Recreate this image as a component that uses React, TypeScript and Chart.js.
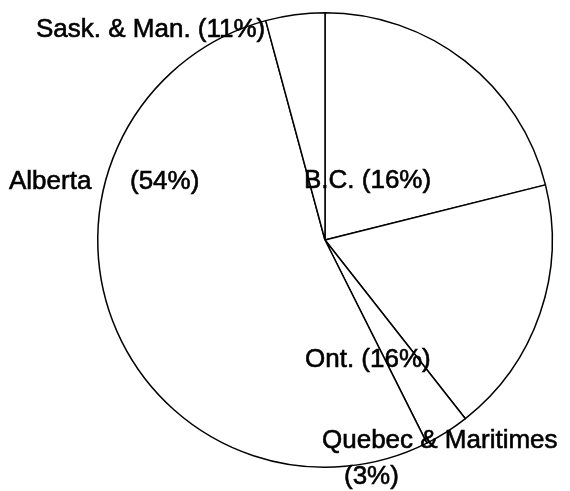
import React, { useEffect, useRef } from "react";
import { Chart, registerables } from "chart.js";

Chart.register(...registerables);

const categories = ["B.C.", "Ont.", "Quebec & Maritimes", "Alberta", "Sask. & Man."];
const sliceValues = [21.1, 18.3, 3.2, 53.2, 4.2];
// Printed labels (text as it appears on the chart)
const labelLines = [
  ["B.C. (16%)"],
  ["Ont. (16%)"],
  ["Quebec & Maritimes", "(3%)"],
  ["Alberta", "(54%)"],
  ["Sask. & Man. (11%)"],
];

// Layout of the label text (pixels, left x / baseline y per line)
const labelLayout = [
  [[304, 188]],
  [[305, 367]],
  [[322, 448], [344, 484]],
  [[9, 189], [130, 189]],
  [[36, 37]],
];

const labelPlugin = {
  id: "pieLabels",
  afterDraw(chart: any) {
    const ctx = chart.ctx;
    ctx.save();
    ctx.fillStyle = "#000";
    ctx.strokeStyle = "#000";
    ctx.lineWidth = 0.6;
    ctx.font = "26px 'Liberation Sans', Arial, sans-serif";
    ctx.textAlign = "left";
    ctx.textBaseline = "alphabetic";
    labelLines.forEach((lines, i) => {
      lines.forEach((t, j) => {
        const [x, y] = labelLayout[i][j];
        ctx.fillText(t, x, y);
        ctx.strokeText(t, x, y);
      });
    });
    ctx.restore();
  },
};

export default function App() {
  const ref = useRef<HTMLCanvasElement | null>(null);
  useEffect(() => {
    if (!ref.current) return;
    const chart = new Chart(ref.current, {
      type: "pie",
      data: {
        labels: categories,
        datasets: [
          {
            data: sliceValues,
            backgroundColor: "#ffffff",
            borderColor: "#000000",
            borderWidth: 1.5,
          },
        ],
      },
      options: {
        animation: false,
        responsive: false,
        maintainAspectRatio: false,
        layout: { padding: { left: 97, right: 17, top: 12, bottom: 23 } },
        plugins: {
          legend: { display: false },
          tooltip: { enabled: false },
        },
      },
      plugins: [labelPlugin],
    });
    return () => chart.destroy();
  }, []);
  return (
    <div style={{ position: "fixed", left: 0, top: 0, width: 570, height: 491, background: "#fff" }}>
      <canvas ref={ref} width={570} height={491} style={{ width: 570, height: 491 }} />
    </div>
  );
}
